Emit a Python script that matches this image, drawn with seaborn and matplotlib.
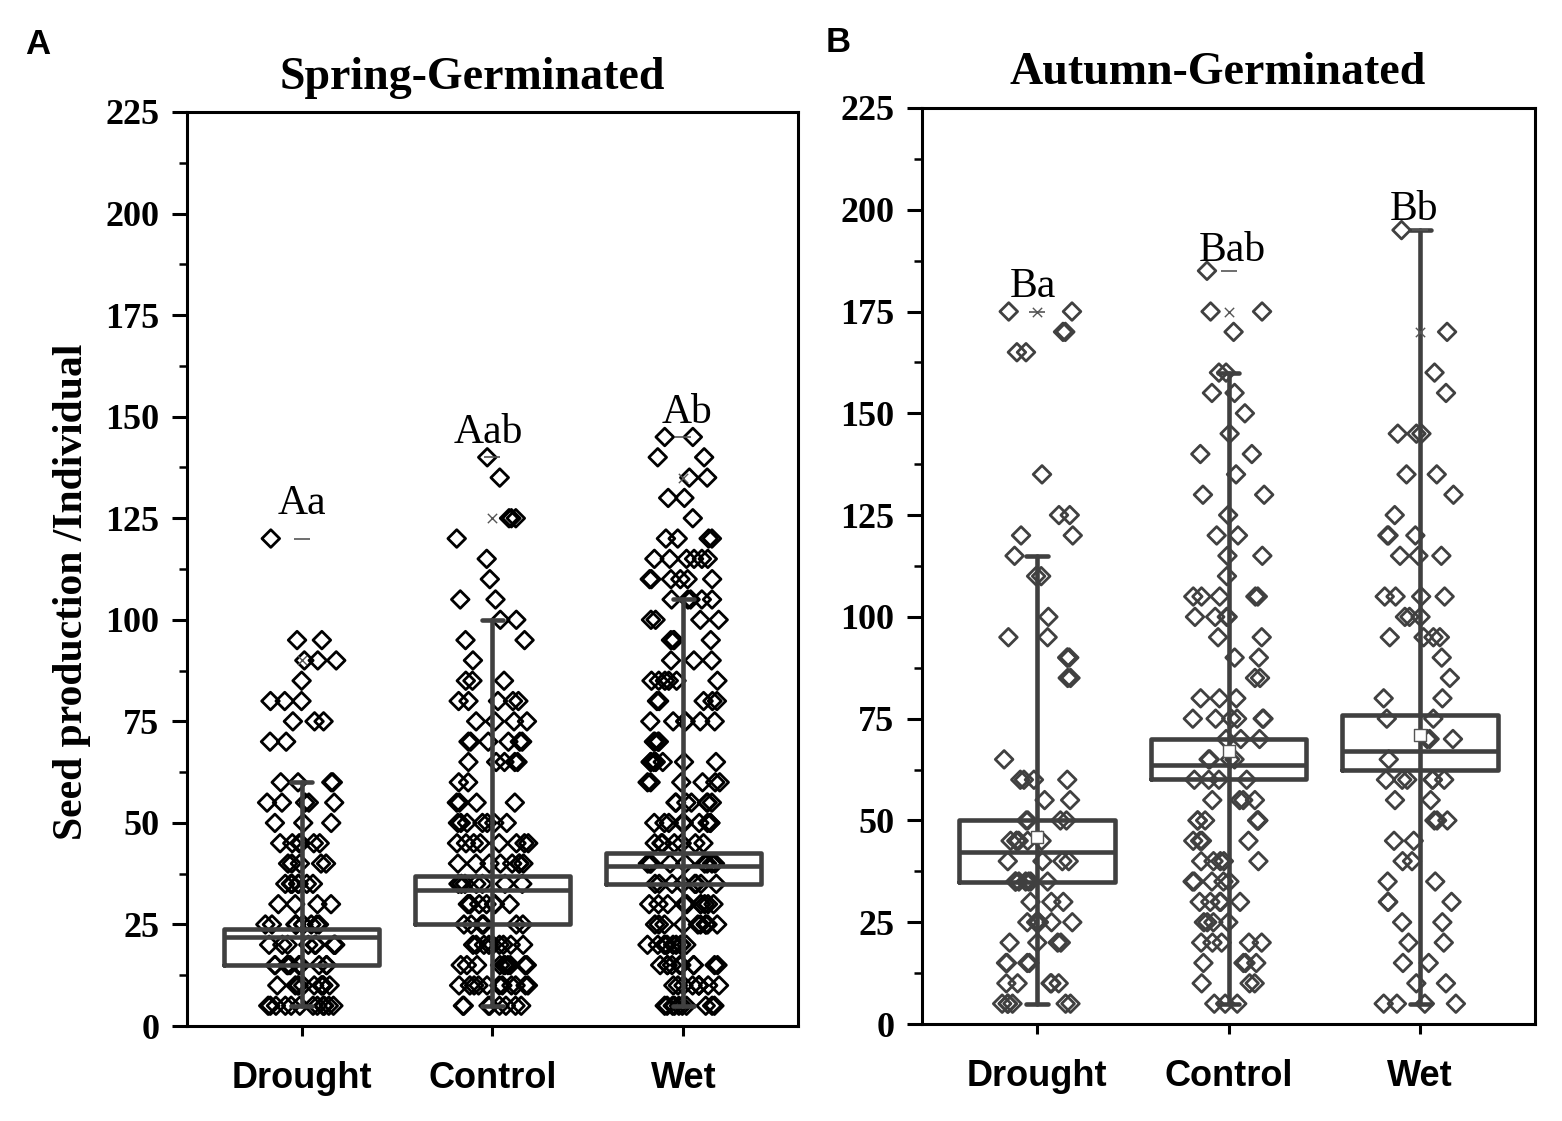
import numpy as np
import pandas as pd
import matplotlib
matplotlib.use("Agg")
import matplotlib.pyplot as plt
import seaborn as sns
from matplotlib.ticker import MultipleLocator

sns.set_theme(style="ticks")
plt.rcParams["font.family"] = ["Liberation Serif", "DejaVu Serif"]
plt.rcParams["text.color"] = "black"
plt.rcParams["axes.labelcolor"] = "black"
plt.rcParams["xtick.color"] = "black"
plt.rcParams["ytick.color"] = "black"

groups = ["Drought", "Control", "Wet"]

# ---- Panel A: Spring-Germinated (value levels and number of individuals per level)
a_drought_vals = [120, 95, 90, 85, 80, 75, 70, 60, 55, 50, 45, 40, 35, 30, 25, 20, 15, 10, 5]
a_drought_cnts = [1, 2, 3, 1, 3, 3, 2, 4, 5, 3, 6, 5, 7, 4, 10, 9, 12, 11, 12]
a_control_vals = [140, 135, 125, 120, 115, 110, 105, 100, 95, 90, 85, 80, 75, 70, 65, 60,
                  55, 50, 45, 40, 35, 30, 25, 20, 15, 10, 5]
a_control_cnts = [1, 1, 3, 1, 1, 1, 2, 2, 2, 1, 3, 5, 4, 6, 5, 2, 4, 7, 8, 8, 7, 8, 7, 9, 10, 11, 8]
a_wet_vals = [145, 140, 135, 130, 125, 120, 115, 110, 105, 100, 95, 90, 85, 80, 75, 70, 65,
              60, 55, 50, 45, 40, 35, 30, 25, 20, 15, 10, 5]
a_wet_cnts = [2, 2, 2, 2, 1, 4, 6, 6, 5, 4, 4, 3, 6, 5, 6, 4, 7, 6, 7, 9, 7, 9, 8, 10, 10, 10, 10, 9, 10]

a_q1 = [15, 25, 35]
a_med = [22, 33.5, 39.5]
a_q3 = [24, 37, 42.5]
a_whislo = [5, 5, 5]
a_whishi = [60, 100, 105]
a_max = [120, 140, 145]
a_p99 = [90, 125, 135]
a_letters = ["Aa", "Aab", "Ab"]
a_letter_y = [126, 143.5, 148.5]
a_letter_x = [0.0, 0.98, 2.02]

# ---- Panel B: Autumn-Germinated
b_drought_vals = [175, 170, 165, 135, 125, 120, 115, 110, 100, 95, 90, 85, 65, 60, 55, 50,
                  45, 40, 35, 30, 25, 20, 15, 10, 5]
b_drought_cnts = [2, 2, 2, 1, 2, 2, 1, 2, 1, 2, 3, 2, 1, 4, 2, 4, 6, 4, 7, 3, 6, 4, 4, 5, 6]
b_control_vals = [185, 175, 170, 160, 155, 150, 145, 140, 135, 130, 125, 120, 115, 110, 105,
                  100, 95, 90, 85, 80, 75, 70, 65, 60, 55, 50, 45, 40, 35, 30, 25, 20, 15, 10, 5]
b_control_cnts = [1, 2, 1, 2, 2, 1, 1, 2, 1, 2, 1, 2, 2, 1, 5, 4, 2, 2, 2, 3, 6, 3, 4, 4, 4,
                  6, 4, 5, 5, 5, 4, 5, 4, 3, 3]
b_wet_vals = [195, 170, 160, 155, 145, 135, 130, 125, 120, 115, 105, 100, 95, 90, 85, 80, 75,
              70, 65, 60, 55, 50, 45, 40, 35, 30, 25, 20, 15, 10, 5]
b_wet_cnts = [1, 1, 1, 1, 3, 2, 1, 1, 3, 3, 4, 3, 4, 1, 1, 2, 2, 3, 1, 6, 2, 3, 2, 2, 2, 3,
              2, 2, 2, 2, 4]

b_q1 = [35, 60.3, 62.3]
b_med = [42.3, 63.5, 67]
b_q3 = [50, 70, 75.8]
b_whislo = [5, 5, 5]
b_whishi = [115, 160, 195]
b_mean = [46, 67, 71]
b_max = [175, 185, 195]
b_p99 = [175, 175, 170]
b_letters = ["Ba", "Bab", "Bb"]
b_letter_y = [178.5, 187.5, 197.5]
b_letter_x = [-0.02, 1.02, 1.97]

yticks = [0, 25, 50, 75, 100, 125, 150, 175, 200, 225]

BOX_COLOR = "#404040"
np.random.seed(7)


def make_df(vals_list, cnts_list):
    rows = []
    for g, vals, cnts in zip(groups, vals_list, cnts_list):
        for v in np.repeat(vals, cnts):
            rows.append((g, v))
    return pd.DataFrame(rows, columns=["group", "value"])


def draw_panel(ax, df, q1, med, q3, wlo, whi, vmax, p99, letters, lx, ly, pt_color, means=None):
    sns.stripplot(data=df, x="group", y="value", order=groups, jitter=0.19,
                  marker="D", size=9, linewidth=2.0, color=pt_color, ax=ax, zorder=2)
    for c in ax.collections:
        c.set_facecolor("none")
        c.set_edgecolor(pt_color)
    pos = [0, 1, 2]
    stats = [dict(med=m, q1=a, q3=b, whislo=lo, whishi=hi, fliers=[])
             for m, a, b, lo, hi in zip(med, q1, q3, wlo, whi)]
    lp = dict(color=BOX_COLOR, linewidth=3.3)
    ax.bxp(stats, positions=pos, widths=0.81, capwidths=0.11, showfliers=False,
           boxprops=lp, whiskerprops=lp, capprops=lp, medianprops=lp,
           manage_ticks=False, zorder=3)
    ax.vlines(pos, q1, q3, color=BOX_COLOR, linewidth=3.3, zorder=3)
    ax.scatter(pos, vmax, marker="_", s=120, color="#555555", linewidths=1.2, zorder=4)
    ax.scatter(pos, p99, marker="x", s=45, color="#555555", linewidths=1.0, zorder=4)
    if means is not None:
        ax.scatter(pos, means, marker="s", s=70, facecolor="white", edgecolor="#555555",
                   linewidths=1.0, zorder=4)
    for t, x, y in zip(letters, lx, ly):
        ax.text(x, y, t, ha="center", va="baseline", fontsize=30,
                family="Liberation Serif", color="black")
    ax.set_xlim(-0.6, 2.6)
    ax.set_ylim(0, 225)
    ax.set_xlabel("")
    ax.set_ylabel("")
    ax.set_yticks(yticks, [str(t) for t in yticks], fontsize=26, fontweight="bold",
                  family="Liberation Serif")
    ax.yaxis.set_minor_locator(MultipleLocator(12.5))
    ax.set_xticks(pos, groups, fontsize=26, fontweight="bold", family="Liberation Sans")
    ax.tick_params(axis="y", which="major", direction="out", length=11, width=2.2, pad=9,
                   left=True, right=False, colors="black")
    ax.tick_params(axis="y", which="minor", direction="out", length=6, width=1.8, left=True)
    ax.tick_params(axis="x", which="major", direction="out", length=7, width=2.2, pad=18,
                   bottom=True, top=False, colors="black")
    for s in ax.spines.values():
        s.set_visible(True)
        s.set_color("black")
        s.set_linewidth(2.2)


fig = plt.figure(figsize=(15.62, 11.21), dpi=100)
axA = fig.add_axes([0.1197, 0.0847, 0.3912, 0.8154])
axB = fig.add_axes([0.5903, 0.0865, 0.3924, 0.8172])

dfA = make_df([a_drought_vals, a_control_vals, a_wet_vals],
              [a_drought_cnts, a_control_cnts, a_wet_cnts])
dfB = make_df([b_drought_vals, b_control_vals, b_wet_vals],
              [b_drought_cnts, b_control_cnts, b_wet_cnts])

draw_panel(axA, dfA, a_q1, a_med, a_q3, a_whislo, a_whishi, a_max, a_p99,
           a_letters, a_letter_x, a_letter_y, "black")
draw_panel(axB, dfB, b_q1, b_med, b_q3, b_whislo, b_whishi, b_max, b_p99,
           b_letters, b_letter_x, b_letter_y, "#404040", means=b_mean)

fig.text(472 / 1562, 1 - 78 / 1121, "Spring-Germinated", ha="center", va="center",
         fontsize=33, fontweight="bold", family="Liberation Serif")
fig.text(1218 / 1562, 1 - 73 / 1121, "Autumn-Germinated", ha="center", va="center",
         fontsize=33, fontweight="bold", family="Liberation Serif")
fig.text(72 / 1562, 1 - 592 / 1121, "Seed production /Individual", ha="center", va="center",
         rotation=90, fontsize=30, fontweight="bold", family="Liberation Serif")
fig.text(38 / 1562, 1 - 45 / 1121, "A", ha="center", va="center", fontsize=25,
         fontweight="bold", family="Liberation Sans")
fig.text(838 / 1562, 1 - 43 / 1121, "B", ha="center", va="center", fontsize=25,
         fontweight="bold", family="Liberation Sans")

fig.savefig("out.png", dpi=100, facecolor="white")
